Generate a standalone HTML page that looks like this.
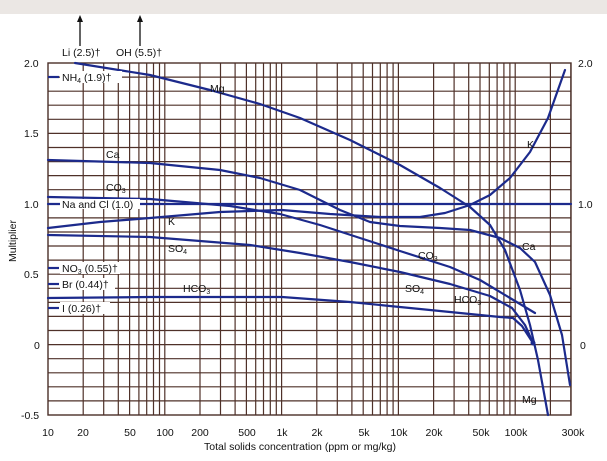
<!DOCTYPE html>
<html><head><meta charset="utf-8"><style>
html,body{margin:0;padding:0;background:#fff;}
svg{display:block;font-family:"Liberation Sans",sans-serif;}
text{fill:#111;font-size:10.5px;}
</style></head><body>
<svg id="s" width="607" height="461" viewBox="0 0 607 461" xmlns="http://www.w3.org/2000/svg">
<rect x="0" y="0" width="607" height="14" fill="#ebe7e4"/>
<g id="grid" stroke="#4f3129" stroke-width="1.2"></g>
<rect x="48" y="63" width="523" height="352" fill="none" stroke="#4a2f28" stroke-width="1.4"/>
<g fill="none" stroke="#1c2a8c" stroke-width="2.2" stroke-linejoin="round" stroke-linecap="round">
<path d="M75,63 L150,75 L210,90 L260,104 L300,118 L350,140 L400,165 L440,188 L470,207 L490,225 L505,250 L520,290 L530,325 L538,360 L548,415"/>
<path d="M48,228 L100,222 L150,218 L220,212 L282,210 L330,214 L380,217 L420,217 L445,213 L470,205 L490,195 L510,178 L530,152 L548,118 L565,70"/>
<path d="M48,160 L150,163 L220,170 L260,178 L300,190 L340,210 L370,222 L400,226 L440,228 L470,230 L500,238 L520,248 L535,262 L550,295 L562,335 L570,385"/>
<path d="M48,197 L150,199 L230,206 L280,214 L320,225 L360,238 L400,251 L450,267 L480,280 L510,298 L535,313"/>
<path d="M48,204 L571,204"/>
<path d="M48,235 L150,237 L250,245 L300,253 L350,262 L400,272 L450,284 L490,296 L512,308 L525,325 L533,343"/>
<path d="M48,298 L150,297 L282,297 L350,302 L420,309 L470,314 L500,317 L513,318 L522,326 L533,343"/>
</g>
<circle cx="533" cy="343" r="2.5" fill="#1c2a8c"/>
<g stroke="#111" stroke-width="1.3"><line x1="80" y1="20" x2="80" y2="46"/><line x1="140" y1="20" x2="140" y2="46"/></g>
<polygon points="80,15 77,22 83,22" fill="#111"/><polygon points="140,15 137,22 143,22" fill="#111"/>
<g>
<text x="62" y="56">Li (2.5)†</text><text x="116" y="56">OH (5.5)†</text>
<rect x="60" y="71" width="62" height="12" fill="#fff"/><text x="62" y="81">NH<tspan font-size="7" dy="2">4</tspan><tspan dy="-2"> (1.9)†</tspan></text>
<rect x="60" y="199" width="80" height="10" fill="#fff"/><text x="62" y="208">Na and Cl (1.0)</text>
<rect x="60" y="262" width="60" height="12" fill="#fff"/><text x="62" y="272">NO<tspan font-size="7" dy="2">3</tspan><tspan dy="-2"> (0.55)†</tspan></text>
<rect x="60" y="278" width="55" height="12" fill="#fff"/><text x="62" y="288">Br (0.44)†</text>
<rect x="60" y="302" width="50" height="12" fill="#fff"/><text x="62" y="312">I (0.26)†</text>
<g stroke="#1c2a8c" stroke-width="2.2"><line x1="48" y1="77" x2="59" y2="77"/><line x1="48" y1="268" x2="59" y2="268"/><line x1="48" y1="284" x2="59" y2="284"/><line x1="48" y1="308" x2="59" y2="308"/></g>
<text x="210" y="92">Mg</text><text x="527" y="148">K</text><text x="106" y="158">Ca</text><text x="522" y="250">Ca</text>
<text x="106" y="191">CO<tspan font-size="7" dy="2">3</tspan></text><text x="418" y="259">CO<tspan font-size="7" dy="2">3</tspan></text>
<text x="168" y="225">K</text><text x="168" y="252">SO<tspan font-size="7" dy="2">4</tspan></text>
<text x="405" y="292">SO<tspan font-size="7" dy="2">4</tspan></text>
<text x="183" y="292">HCO<tspan font-size="7" dy="2">3</tspan></text><text x="454" y="303">HCO<tspan font-size="7" dy="2">3</tspan></text>
<text x="522" y="403">Mg</text>
<text x="24" y="67">2.0</text><text x="24" y="137">1.5</text><text x="24" y="208">1.0</text><text x="24" y="278">0.5</text><text x="34" y="349">0</text><text x="21" y="419">-0.5</text>
<text x="578" y="67">2.0</text><text x="578" y="208">1.0</text><text x="580" y="349">0</text>
<text transform="translate(16,262) rotate(-90)">Multiplier</text>
<g text-anchor="middle">
<text x="48" y="436">10</text><text x="83" y="436">20</text><text x="130" y="436">50</text><text x="165" y="436">100</text><text x="200" y="436">200</text><text x="247" y="436">500</text><text x="282" y="436">1k</text><text x="317" y="436">2k</text><text x="364" y="436">5k</text><text x="399" y="436">10k</text><text x="434" y="436">20k</text><text x="481" y="436">50k</text><text x="516" y="436">100k</text><text x="573" y="436">300k</text>
<text x="300" y="450">Total solids concentration (ppm or mg/kg)</text>
</g>
</g>
</svg>
<script>
var g=document.getElementById('grid'),h='';
for(var d=1;d<=5;d++)for(var m=1;m<=9;m++){var v=Math.pow(10,d)*m;if(v<=10||v>300000)continue;var x=48+116.8*Math.log10(v/10);h+='<line x1="'+x.toFixed(1)+'" y1="63" x2="'+x.toFixed(1)+'" y2="415"/>';}
for(var i=1;i<25;i++){var y=63+i*14.08;h+='<line x1="48" y1="'+y.toFixed(1)+'" x2="571" y2="'+y.toFixed(1)+'"/>';}
g.innerHTML=h;
</script>
</body></html>
